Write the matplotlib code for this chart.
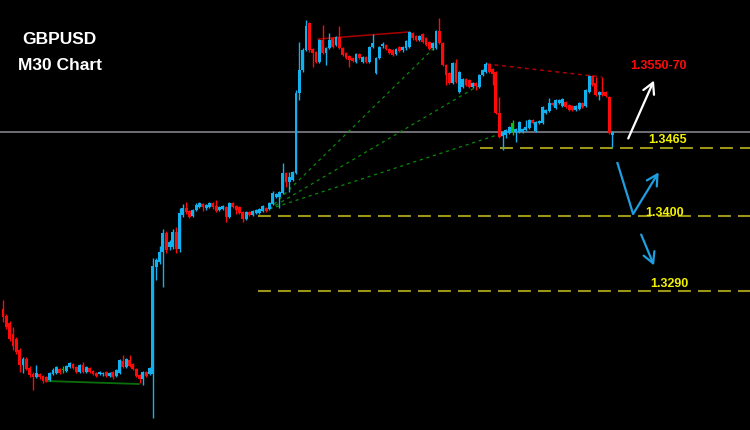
import numpy as np
import matplotlib
matplotlib.use("Agg")
import matplotlib.pyplot as plt

# GBPUSD M30 candles, prices given in pips above 1.3000
BASE = 1.3
opens_pip = [304, 297, 290, 279, 274, 263, 248, 254, 245, 239,
             236, 239, 237, 236, 233, 239, 240, 244, 243, 242,
             246, 249, 246, 241, 248, 241, 245, 242, 240, 239,
             239, 241, 237, 241, 237, 240, 252, 246, 253, 249,
             244, 238, 234, 241, 239, 239, 346, 351, 361, 380,
             366, 366, 381, 364, 398, 405, 402, 397, 403, 406,
             409, 405, 406, 410, 407, 403, 404, 406, 396, 410,
             407, 406, 401, 394, 401, 398, 400, 400, 402, 405,
             404, 409, 416, 416, 420, 440, 431, 433, 440, 520,
             543, 563, 590, 564, 561, 551, 573, 560, 565, 575,
             568, 576, 565, 560, 557, 555, 551, 559, 551, 556,
             551, 566, 540, 555, 567, 568, 564, 563, 559, 566,
             563, 565, 566, 580, 577, 573, 579, 575, 571, 565,
             565, 582, 570, 548, 540, 530, 550, 521, 526, 534,
             533, 526, 530, 526, 538, 541, 549, 544, 541, 500,
             477, 478, 480, 481, 481, 481, 481, 483, 485, 493,
             482, 490, 490, 500, 502, 510, 505, 510, 507, 511,
             508, 507, 503, 504, 510, 507, 521, 537, 530, 518,
             521, 521, 516, 478]
closes_pip = [296, 286, 274, 267, 261, 248, 254, 244, 238, 236,
              240, 236, 232, 232, 240, 243, 246, 240, 244, 247,
              250, 245, 241, 248, 241, 246, 241, 239, 237, 241,
              240, 237, 240, 236, 243, 253, 246, 254, 247, 244,
              237, 234, 241, 237, 245, 347, 353, 361, 380, 363,
              371, 381, 364, 400, 405, 401, 396, 403, 408, 410,
              406, 408, 410, 406, 402, 406, 407, 396, 410, 406,
              403, 400, 394, 401, 398, 402, 403, 404, 407, 402,
              410, 420, 419, 421, 440, 431, 436, 441, 520, 543,
              563, 587, 563, 560, 551, 573, 560, 565, 573, 566,
              576, 565, 558, 555, 553, 552, 559, 555, 556, 551,
              566, 570, 555, 566, 569, 564, 560, 558, 564, 562,
              566, 572, 581, 575, 573, 577, 571, 568, 564, 570,
              582, 570, 548, 538, 530, 550, 531, 541, 534, 528,
              526, 530, 527, 538, 543, 549, 541, 539, 500, 476,
              481, 483, 486, 490, 484, 491, 484, 486, 493, 490,
              491, 492, 506, 503, 510, 508, 513, 513, 514, 506,
              503, 503, 507, 510, 506, 523, 537, 528, 518, 521,
              518, 517, 480, 481]
highs_pip = [313, 299, 292, 286, 276, 265, 256, 256, 247, 241,
             248, 240, 238, 237, 241, 245, 247, 245, 247, 248,
             251, 250, 247, 249, 251, 247, 246, 243, 241, 242,
             241, 242, 241, 242, 244, 254, 258, 255, 258, 250,
             245, 239, 242, 242, 246, 355, 355, 367, 384, 382,
             373, 384, 386, 405, 409, 411, 403, 404, 410, 411,
             410, 409, 411, 411, 413, 407, 408, 407, 411, 411,
             408, 407, 402, 402, 402, 403, 404, 405, 408, 406,
             411, 422, 420, 422, 450, 441, 441, 442, 523, 571,
             565, 593, 591, 565, 562, 574, 588, 566, 580, 576,
             577, 587, 566, 561, 558, 556, 560, 560, 557, 557,
             567, 579, 556, 567, 571, 569, 565, 564, 565, 567,
             567, 573, 582, 581, 578, 578, 580, 576, 572, 571,
             583, 595, 571, 549, 541, 551, 554, 542, 535, 535,
             534, 531, 531, 539, 544, 551, 550, 545, 542, 516,
             482, 484, 487, 493, 485, 492, 485, 493, 494, 494,
             492, 493, 507, 504, 515, 511, 514, 514, 515, 512,
             509, 508, 508, 511, 511, 524, 538, 538, 536, 522,
             536, 522, 517, 482]
lows_pip = [291, 284, 272, 263, 259, 241, 240, 243, 236, 223,
            235, 234, 230, 231, 232, 238, 239, 239, 240, 241,
            245, 244, 240, 240, 240, 240, 240, 238, 236, 238,
            237, 236, 236, 234, 236, 239, 245, 245, 246, 243,
            236, 230, 228, 236, 238, 195, 333, 349, 326, 360,
            363, 364, 360, 361, 396, 399, 395, 396, 402, 405,
            402, 403, 405, 404, 401, 402, 403, 391, 395, 405,
            399, 399, 391, 393, 397, 397, 399, 399, 401, 401,
            403, 408, 415, 405, 419, 426, 421, 432, 439, 513,
            541, 562, 561, 546, 550, 550, 559, 548, 564, 565,
            567, 564, 557, 554, 546, 551, 550, 554, 550, 550,
            550, 565, 539, 554, 565, 563, 559, 557, 558, 561,
            561, 563, 565, 573, 572, 572, 570, 567, 563, 563,
            564, 569, 547, 528, 529, 529, 530, 520, 525, 527,
            525, 525, 523, 525, 537, 540, 540, 528, 499, 475,
            463, 475, 479, 478, 471, 480, 480, 482, 484, 489,
            481, 489, 489, 499, 501, 507, 504, 509, 506, 505,
            502, 502, 502, 503, 505, 506, 520, 527, 517, 513,
            517, 516, 479, 466]
green_candles = [18, 153]

current_price = 1.3481
levels = [1.3465, 1.3397, 1.3322]
level_labels = ["1.3465", "1.3400", "1.3290"]
level_start = [143.2, 76.6, 76.6]
label_pos = [(193.7, 1.3473), (192.8, 1.3400), (194.3, 1.3329)]
target_label = "1.3550-70"
target_pos = (188.3, 1.3547)

fan_origin = (80, 1.3404)
fan_ends = [(130.3, 1.3568), (142.6, 1.3527), (150.2, 1.3480)]
resist_solid = [(94.6, 1.3574), (121.6, 1.3581)]
resist_dashed = [(145.3, 1.3549), (179.9, 1.3536)]
support_line = [(12.9, 1.3232), (40.8, 1.3229)]

white_arrow = [(187.4, 1.3472), (195.8, 1.3535)]
blue_v = [(184.4, 1.3451), (189.2, 1.3399), (197.3, 1.3443)]
blue_arrow = [(191.3, 1.3381), (195.8, 1.3345)]

BLUE = "#12b0ee"
RED = "#ff0a0a"
GREEN = "#10c010"
ARROW_BLUE = "#1e9fe0"
YELLOW = "#f2f200"
OLIVE = "#9c9618"

o = BASE + np.array(opens_pip) / 1e4
c = BASE + np.array(closes_pip) / 1e4
h = BASE + np.array(highs_pip) / 1e4
l = BASE + np.array(lows_pip) / 1e4
x = np.arange(len(o))

colors = np.where(c >= o, BLUE, RED).astype(object)
colors[green_candles] = GREEN

fig = plt.figure(figsize=(7.5, 4.3), dpi=100, facecolor="black")
ax = fig.add_axes([0, 0, 1, 1])
ax.set_facecolor("black")
ax.set_xlim(-0.9, 224.3)
ax.set_ylim(1.3183, 1.3613)
ax.axis("off")

# current price line
ax.axhline(current_price, color="#8c8c94", lw=1.1, zorder=1)

# support / resistance / fan lines
ax.plot(*zip(*support_line), color="#0b6e0b", lw=1.3, zorder=1)
ax.plot(*zip(*resist_solid), color="#a80000", lw=1.1, zorder=1)
ax.plot(*zip(*resist_dashed), color="#b00000", lw=1.1, dashes=(2.5, 2.5), zorder=1)
for ex, ey in fan_ends:
    ax.plot([fan_origin[0], ex], [fan_origin[1], ey], color="#0a8a0a",
            lw=0.9, dashes=(2.5, 3), zorder=1)

# target levels
for lv, x0 in zip(levels, level_start):
    ax.plot([x0, 224.3], [lv, lv], color=OLIVE, lw=1.5, dashes=(6.2, 3.4), zorder=1)

# candles
ax.vlines(x, l, h, colors=list(colors), lw=1.0, zorder=2)
body = np.abs(c - o)
body = np.where(body < 1e-4, 1e-4, body)
ax.bar(x, body, bottom=np.minimum(o, c), width=0.85, color=list(colors),
       linewidth=0, zorder=3)

# labels
for txt, (tx, ty) in zip(level_labels, label_pos):
    ax.text(tx, ty, txt, color=YELLOW, fontsize=9, fontweight="bold",
            family="Liberation Sans", va="center", ha="left")
ax.text(*target_pos, target_label, color=RED, fontsize=9, fontweight="bold",
        family="Liberation Sans", va="center", ha="left")

# forecast arrows
ax.annotate("", xy=white_arrow[1], xytext=white_arrow[0],
            arrowprops=dict(arrowstyle="->,head_length=0.55,head_width=0.3",
                            color="white", lw=1.6, mutation_scale=14))
ax.plot([blue_v[0][0], blue_v[1][0]], [blue_v[0][1], blue_v[1][1]],
        color=ARROW_BLUE, lw=1.6, solid_capstyle="butt")
ax.annotate("", xy=blue_v[2], xytext=blue_v[1],
            arrowprops=dict(arrowstyle="->,head_length=0.55,head_width=0.3",
                            color=ARROW_BLUE, lw=1.6, mutation_scale=14,
                            shrinkA=0))
ax.annotate("", xy=blue_arrow[1], xytext=blue_arrow[0],
            arrowprops=dict(arrowstyle="->,head_length=0.55,head_width=0.3",
                            color=ARROW_BLUE, lw=1.6, mutation_scale=14))

# title
fig.text(59.7 / 750, 1 - 39.5 / 430, "GBPUSD", color="white", fontsize=12.5,
         fontweight="bold", family="Liberation Sans", ha="center", va="center")
fig.text(59.5 / 750, 1 - 65.5 / 430, "M30 Chart", color="white", fontsize=12.5,
         fontweight="bold", family="Liberation Sans", ha="center", va="center")

fig.savefig("out.png", dpi=100, facecolor="black")
